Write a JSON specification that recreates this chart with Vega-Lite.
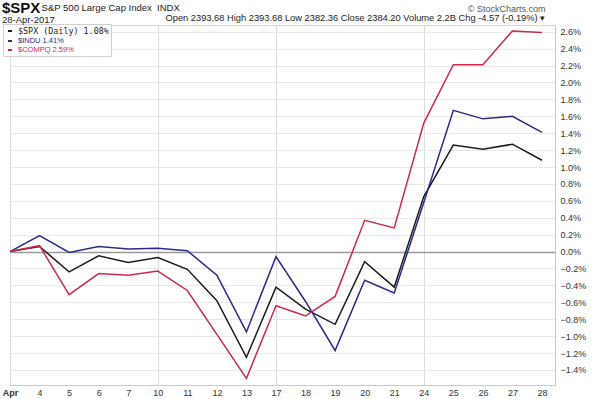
{
  "$schema": "https://vega.github.io/schema/vega-lite/v6.json",
  "width": 545,
  "height": 360,
  "autosize": {"type": "none"},
  "padding": {"left": 10, "top": 25, "right": 40, "bottom": 14},
  "background": "white",
  "config": {"view": {"stroke": "#d6d6d6"}, "font": "Liberation Sans"},
  "title": {
    "text": "$SPX",
    "subtitle": ["\u200b\u00a0\u00a0\u00a0\u00a0\u00a0\u00a0\u00a0\u00a0\u00a0\u00a0\u00a0\u00a0\u00a0\u00a0\u00a0S&P 500 Large Cap Index\u00a0\u00a0INDX", "28-Apr-2017"],
    "anchor": "start",
    "frame": "group",
    "dx": -8,
    "dy": 21,
    "offset": 1,
    "font": "Liberation Sans",
    "fontSize": 15,
    "fontWeight": "bold",
    "color": "#111",
    "subtitleFont": "Liberation Sans",
    "subtitleFontSize": 9.5,
    "subtitleColor": "#222",
    "subtitlePadding": -13,
    "subtitleLineHeight": 12
  },
  "data": {
    "values": [
      {"day": "Apr", "series": "$SPX (Daily) 1.08%", "value": 0},
      {"day": "4", "series": "$SPX (Daily) 1.08%", "value": 0.06},
      {"day": "5", "series": "$SPX (Daily) 1.08%", "value": -0.24},
      {"day": "6", "series": "$SPX (Daily) 1.08%", "value": -0.05},
      {"day": "7", "series": "$SPX (Daily) 1.08%", "value": -0.13},
      {"day": "10", "series": "$SPX (Daily) 1.08%", "value": -0.07},
      {"day": "11", "series": "$SPX (Daily) 1.08%", "value": -0.21},
      {"day": "12", "series": "$SPX (Daily) 1.08%", "value": -0.58},
      {"day": "13", "series": "$SPX (Daily) 1.08%", "value": -1.25},
      {"day": "17", "series": "$SPX (Daily) 1.08%", "value": -0.42},
      {"day": "18", "series": "$SPX (Daily) 1.08%", "value": -0.68},
      {"day": "19", "series": "$SPX (Daily) 1.08%", "value": -0.86},
      {"day": "20", "series": "$SPX (Daily) 1.08%", "value": -0.12},
      {"day": "21", "series": "$SPX (Daily) 1.08%", "value": -0.42},
      {"day": "24", "series": "$SPX (Daily) 1.08%", "value": 0.65},
      {"day": "25", "series": "$SPX (Daily) 1.08%", "value": 1.26},
      {"day": "26", "series": "$SPX (Daily) 1.08%", "value": 1.21},
      {"day": "27", "series": "$SPX (Daily) 1.08%", "value": 1.27},
      {"day": "28", "series": "$SPX (Daily) 1.08%", "value": 1.08},
      {"day": "Apr", "series": "$INDU 1.41%", "value": 0},
      {"day": "4", "series": "$INDU 1.41%", "value": 0.19},
      {"day": "5", "series": "$INDU 1.41%", "value": -0.01},
      {"day": "6", "series": "$INDU 1.41%", "value": 0.06},
      {"day": "7", "series": "$INDU 1.41%", "value": 0.03},
      {"day": "10", "series": "$INDU 1.41%", "value": 0.04},
      {"day": "11", "series": "$INDU 1.41%", "value": 0.01},
      {"day": "12", "series": "$INDU 1.41%", "value": -0.28},
      {"day": "13", "series": "$INDU 1.41%", "value": -0.95},
      {"day": "17", "series": "$INDU 1.41%", "value": -0.06},
      {"day": "18", "series": "$INDU 1.41%", "value": -0.59},
      {"day": "19", "series": "$INDU 1.41%", "value": -1.17},
      {"day": "20", "series": "$INDU 1.41%", "value": -0.34},
      {"day": "21", "series": "$INDU 1.41%", "value": -0.49},
      {"day": "24", "series": "$INDU 1.41%", "value": 0.58},
      {"day": "25", "series": "$INDU 1.41%", "value": 1.67},
      {"day": "26", "series": "$INDU 1.41%", "value": 1.57},
      {"day": "27", "series": "$INDU 1.41%", "value": 1.6},
      {"day": "28", "series": "$INDU 1.41%", "value": 1.41},
      {"day": "Apr", "series": "$COMPQ 2.59%", "value": 0},
      {"day": "4", "series": "$COMPQ 2.59%", "value": 0.07},
      {"day": "5", "series": "$COMPQ 2.59%", "value": -0.51},
      {"day": "6", "series": "$COMPQ 2.59%", "value": -0.26},
      {"day": "7", "series": "$COMPQ 2.59%", "value": -0.28},
      {"day": "10", "series": "$COMPQ 2.59%", "value": -0.23},
      {"day": "11", "series": "$COMPQ 2.59%", "value": -0.46},
      {"day": "12", "series": "$COMPQ 2.59%", "value": -0.98},
      {"day": "13", "series": "$COMPQ 2.59%", "value": -1.5},
      {"day": "17", "series": "$COMPQ 2.59%", "value": -0.64},
      {"day": "18", "series": "$COMPQ 2.59%", "value": -0.76},
      {"day": "19", "series": "$COMPQ 2.59%", "value": -0.53},
      {"day": "20", "series": "$COMPQ 2.59%", "value": 0.37},
      {"day": "21", "series": "$COMPQ 2.59%", "value": 0.28},
      {"day": "24", "series": "$COMPQ 2.59%", "value": 1.52},
      {"day": "25", "series": "$COMPQ 2.59%", "value": 2.21},
      {"day": "26", "series": "$COMPQ 2.59%", "value": 2.21},
      {"day": "27", "series": "$COMPQ 2.59%", "value": 2.61},
      {"day": "28", "series": "$COMPQ 2.59%", "value": 2.59}
    ]
  },
  "mark": {"type": "line", "strokeWidth": 1.5},
  "encoding": {
    "x": {
      "field": "day",
      "type": "ordinal",
      "sort": ["Apr", "4", "5", "6", "7", "10", "11", "12", "13", "17", "18", "19", "20", "21", "24", "25", "26", "27", "28"],
      "scale": {"type": "point", "padding": 0.22, "align": 0},
      "axis": {
        "title": "Open 2393.68 High 2393.68 Low 2382.36 Close 2384.20 Volume 2.2B Chg -4.57 (-0.19%) \u25be",
        "titleX": 155,
        "titleY": -365,
        "titleAlign": "left",
        "titleAnchor": "start",
        "titleBaseline": "alphabetic",
        "titleFont": "Liberation Sans",
        "titleFontSize": 9.3,
        "titleFontWeight": "normal",
        "titleColor": "#222",
        "labelAngle": 0,
        "labelFont": "Liberation Sans",
        "labelFontSize": 9,
        "labelColor": "#333",
        "labelPadding": 3,
        "labelFontWeight": {"condition": {"test": "datum.value === 'Apr'", "value": "bold"}, "value": "normal"},
        "ticks": false,
        "domainColor": "#cccccc",
        "grid": true,
        "gridColor": "#dcdcdc",
        "gridOpacity": {"condition": {"test": "indexof(['Apr','10','17','24'], datum.value) >= 0", "value": 1}, "value": 0}
      }
    },
    "y": {
      "field": "value",
      "type": "quantitative",
      "scale": {"domain": [-1.578, 2.68], "nice": false, "zero": false},
      "axis": {
        "orient": "right",
        "title": "\u00a9 StockCharts.com",
        "titleAngle": 0,
        "titleAlign": "right",
        "titleBaseline": "alphabetic",
        "titleX": -10,
        "titleY": -14,
        "titleFont": "Liberation Sans",
        "titleFontSize": 9,
        "titleFontWeight": "normal",
        "titleColor": "#555",
        "values": [-1.4, -1.2, -1.0, -0.8, -0.6, -0.4, -0.2, 0, 0.2, 0.4, 0.6, 0.8, 1.0, 1.2, 1.4, 1.6, 1.8, 2.0, 2.2, 2.4, 2.6],
        "labelExpr": "format(datum.value, '.1f') + '%'",
        "labelFont": "Liberation Sans",
        "labelFontSize": 9,
        "labelColor": "#333",
        "labelPadding": 5,
        "ticks": false,
        "domainColor": "#bbbbbb",
        "domainDash": [1, 1],
        "grid": true,
        "gridColor": {"condition": {"test": "datum.value === 0", "value": "#9a9a9a"}, "value": "#e9e9e9"},
        "gridWidth": {"condition": {"test": "datum.value === 0", "value": 1.5}, "value": 1}
      }
    },
    "color": {
      "field": "series",
      "type": "nominal",
      "sort": ["$SPX (Daily) 1.08%", "$INDU 1.41%", "$COMPQ 2.59%"],
      "scale": {
        "domain": ["$SPX (Daily) 1.08%", "$INDU 1.41%", "$COMPQ 2.59%"],
        "range": ["#1c1c1c", "#2b2a8c", "#cc2a4c"]
      },
      "legend": {
        "orient": "none",
        "legendX": -7,
        "legendY": -1,
        "title": null,
        "padding": 2,
        "fillColor": "white",
        "strokeColor": "#d0d0d0",
        "symbolType": "stroke",
        "symbolStrokeWidth": 2,
        "symbolSize": 16,
        "labelFontSize": 5,
        "labelOffset": 3,
        "rowPadding": 0,
        "encode": {
          "labels": {
            "update": {
              "fill": {"scale": "color", "field": "value"},
              "font": [{"test": "datum.index === 0", "value": "DejaVu Sans Mono"}, {"value": "Liberation Sans"}],
              "fontSize": [{"test": "datum.index === 0", "value": 8.4}, {"value": 7.5}]
            }
          }
        }
      }
    }
  }
}
